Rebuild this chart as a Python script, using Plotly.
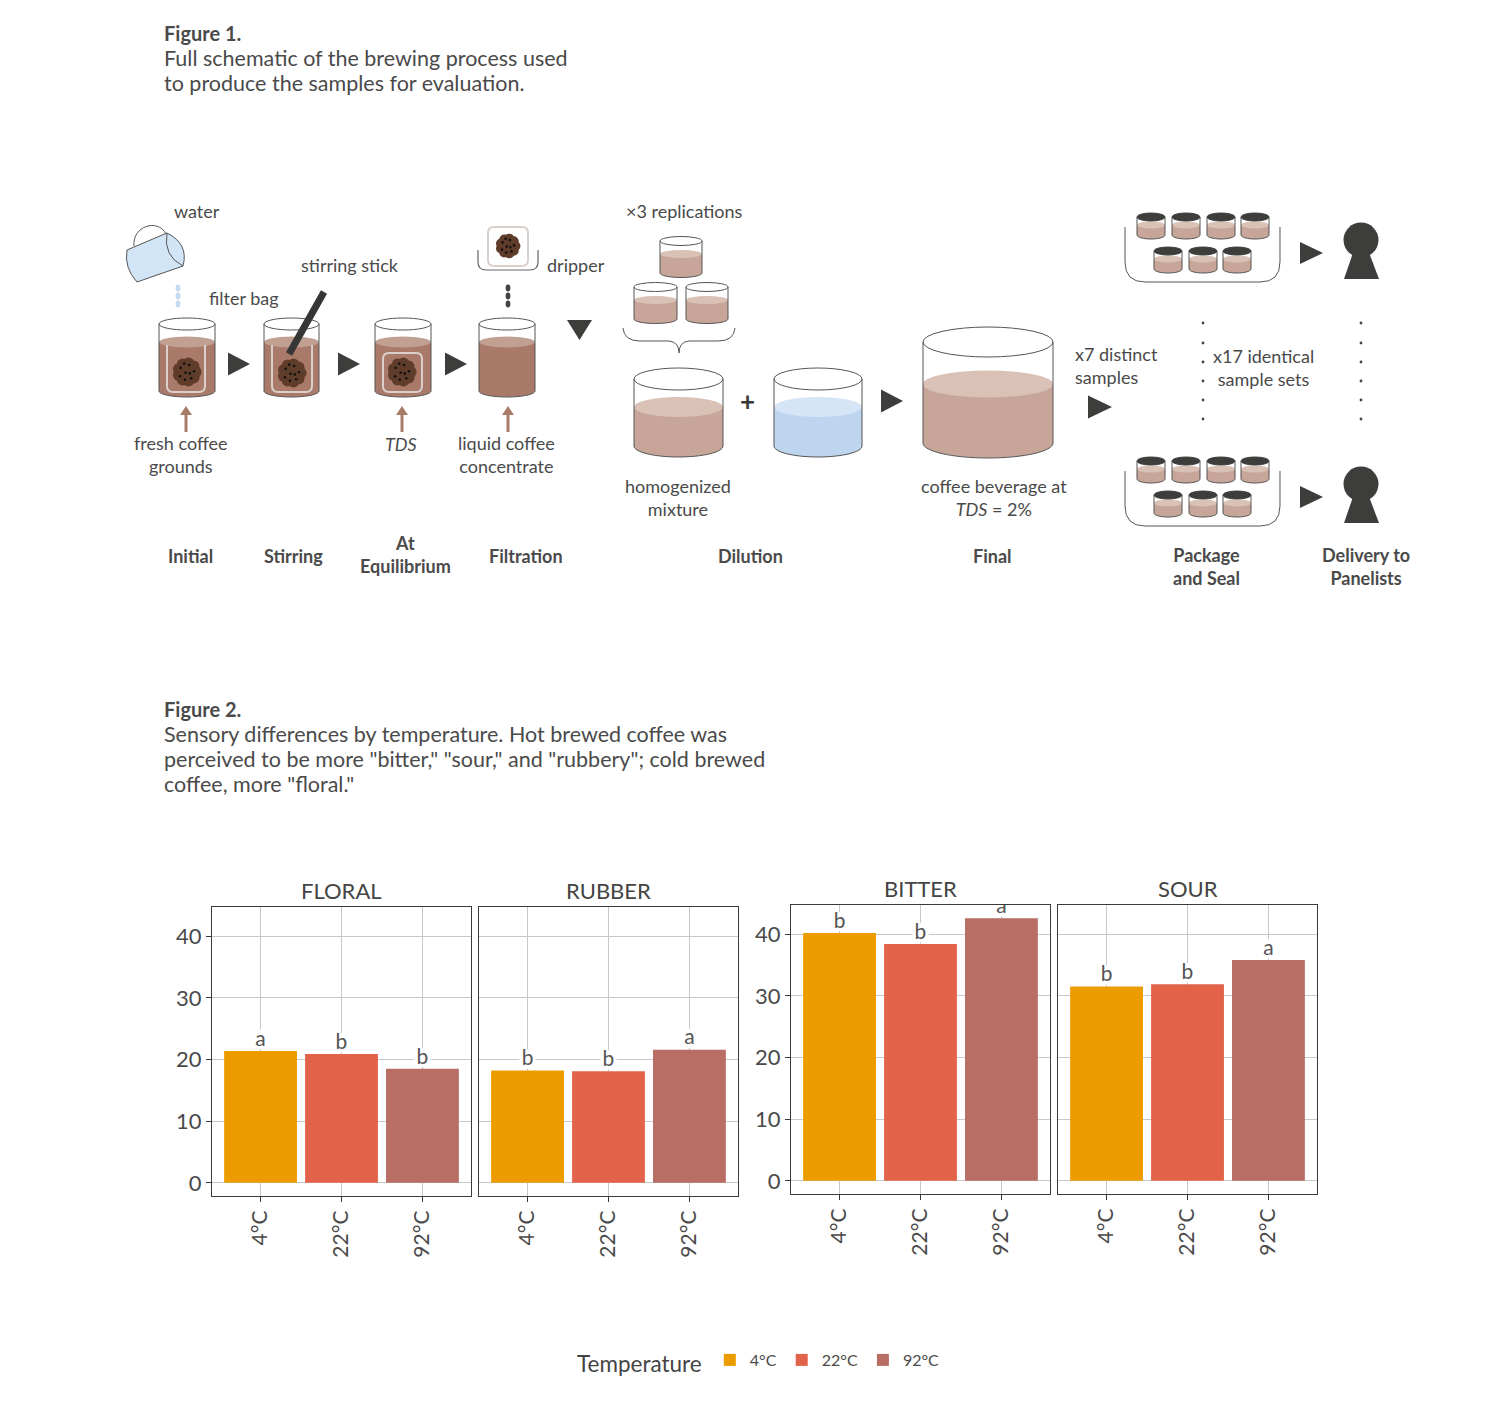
import math
import plotly.graph_objects as go

W, H = 1496, 1410
FONT = 'Lato'
TEXT = '#4a4a4a'
DARK = '#3d3d3b'

# ---- Figure 2 data ----
temperatures = ['4°C', '22°C', '92°C']
temp_colors = ['#ED9C00', '#E2634A', '#B86D65']
attributes = ['FLORAL', 'RUBBER', 'BITTER', 'SOUR']
floral = [21.4, 20.9, 18.5]
rubber = [18.2, 18.1, 21.6]
bitter = [40.2, 38.4, 42.6]
sour = [31.5, 31.9, 35.8]
floral_letters = ['a', 'b', 'b']
rubber_letters = ['b', 'b', 'a']
bitter_letters = ['b', 'b', 'a']
sour_letters = ['b', 'b', 'a']
y_ticks = [0, 10, 20, 30, 40]

# panel boxes in pixels (left, right, top, bottom)
panel_boxes = [(212, 471, 907, 1196), (479, 738, 907, 1196),
               (791, 1050, 905, 1194), (1058, 1317, 905, 1194)]

shapes = []
annotations = []


def X(x):
    return x / W


def Y(y):
    return 1 - y / H


def conv(d):
    '''
    Turns a pixel path "M 1 2 L 3 4" into paper coordinates
    '''
    out, nums = [], []
    for tok in d.replace(',', ' ').split():
        if tok.isalpha():
            out.append(tok)
        else:
            nums.append(float(tok))
            if len(nums) == 2:
                out.append(f'{X(nums[0]):.5f},{Y(nums[1]):.5f}')
                nums = []
    return ' '.join(out)


def add_path(d, fill=None, color=None, width=1):
    shapes.append(dict(type='path', xref='paper', yref='paper', path=conv(d),
                       fillcolor=fill or 'rgba(0,0,0,0)',
                       line=dict(color=color or 'rgba(0,0,0,0)', width=width if color else 0)))


def add_rect(x0, y0, x1, y1, fill):
    shapes.append(dict(type='rect', xref='paper', yref='paper', x0=X(x0), x1=X(x1),
                       y0=Y(y1), y1=Y(y0), fillcolor=fill, line=dict(width=0)))


def add_ellipse(cx, cy, rx, ry, fill=None, color=None, width=1):
    shapes.append(dict(type='circle', xref='paper', yref='paper',
                       x0=X(cx - rx), x1=X(cx + rx), y0=Y(cy + ry), y1=Y(cy - ry),
                       fillcolor=fill or 'rgba(0,0,0,0)',
                       line=dict(color=color or 'rgba(0,0,0,0)', width=width if color else 0)))


def add_line(x0, y0, x1, y1, color, width=1):
    shapes.append(dict(type='line', xref='paper', yref='paper', x0=X(x0), x1=X(x1),
                       y0=Y(y0), y1=Y(y1), line=dict(color=color, width=width)))


def text(x, y, s, size=18, anchor='center', color=TEXT, align='center'):
    annotations.append(dict(x=X(x), y=Y(y), xref='paper', yref='paper', text=s,
                            showarrow=False, xanchor=anchor, yanchor='middle', align=align,
                            font=dict(family=FONT, size=size, color=color)))


def glass(x0, x1, top, bot, ry, surf_y, body, surf, lid=None, lw=1):
    '''
    Cylinder glass with liquid, drawn front on
    '''
    cx, rx = (x0 + x1) / 2, (x1 - x0) / 2
    k = 0.5523
    add_rect(x0, surf_y, x1, bot, body)
    add_ellipse(cx, bot, rx, ry, body)
    add_ellipse(cx, surf_y, rx, ry * 0.9, surf)
    add_line(x0, top, x0, bot, '#555', lw)
    add_line(x1, top, x1, bot, '#555', lw)
    add_path(f'M {x0} {bot} C {x0} {bot + k * ry} {cx - k * rx} {bot + ry} {cx} {bot + ry} '
             f'C {cx + k * rx} {bot + ry} {x1} {bot + k * ry} {x1} {bot}', color='#555', width=lw)
    if lid:
        add_ellipse(cx, top, rx, ry, lid, lid, 1)
    else:
        add_ellipse(cx, top, rx, ry, None, '#555', lw)


def grounds(cx, cy, r):
    for i in range(9):
        a = 2 * math.pi * i / 9
        add_ellipse(cx + 0.62 * r * math.cos(a), cy + 0.62 * r * math.sin(a), 0.42 * r, 0.42 * r, '#603D2B')
    add_ellipse(cx, cy, 0.75 * r, 0.75 * r, '#603D2B')
    for dx, dy in [(-0.45, -0.3), (0.15, -0.5), (0.5, -0.05), (-0.1, 0.05), (-0.5, 0.3),
                   (0.3, 0.45), (0.2, 0.1), (-0.2, -0.6), (-0.15, 0.55)]:
        add_ellipse(cx + dx * r, cy + dy * r, 1.3, 1.3, '#111')


def tri_right(x0, x1, ym, h):
    add_path(f'M {x0} {ym - h / 2} L {x1} {ym} L {x0} {ym + h / 2} Z', fill=DARK)


def up_arrow(x, y_bot, y_top):
    add_line(x, y_bot, x, y_top + 6, '#A87C68', 3)
    add_path(f'M {x - 6} {y_top + 9} L {x} {y_top} L {x + 6} {y_top + 9} Z', fill='#A87C68')


def bag(x0, x1, y0, y1, closed=False):
    r = 6
    if closed:
        d = (f'M {x0 + r} {y0} L {x1 - r} {y0} Q {x1} {y0} {x1} {y0 + r} L {x1} {y1 - r} '
             f'Q {x1} {y1} {x1 - r} {y1} L {x0 + r} {y1} Q {x0} {y1} {x0} {y1 - r} '
             f'L {x0} {y0 + r} Q {x0} {y0} {x0 + r} {y0}')
    else:
        d = (f'M {x0} {y0} L {x0} {y1 - r} Q {x0} {y1} {x0 + r} {y1} L {x1 - r} {y1} '
             f'Q {x1} {y1} {x1} {y1 - r} L {x1} {y0}')
    add_path(d, color='#D9D0CC', width=2)


# ---- Figure 1: schematic ----
DARK_BODY, DARK_SURF = '#A97A6A', '#C2A091'
LIGHT_BODY, LIGHT_SURF = '#C7A699', '#D9C1B6'
WATER_BODY, WATER_SURF = '#BDD5EE', '#D6E5F5'

# pitcher
add_path('M 127 250 L 167 233 Q 189 244 183 266 L 137 282 Q 124 268 127 250 Z',
         fill='#D2E5F6', color='#555', width=1)
add_path('M 167 233 Q 163 256 183 266', color='#555', width=1)
add_path('M 134 246 C 132 226 158 218 166 234', color='#555', width=1)
for yy in [288, 296, 304]:
    add_ellipse(178, yy, 2.4, 3.4, '#C4DAF0')

# four brewing glasses
for gx0, gx1 in [(159, 215), (264, 319), (375, 431), (479, 535)]:
    glass(gx0, gx1, 324, 391, 6, 342, DARK_BODY, DARK_SURF)
bag(167, 205, 345, 392)
grounds(187, 372, 14)
bag(272, 312, 345, 392)
grounds(292, 373, 14)
add_line(324, 292, 289, 354, '#363636', 7)
bag(383, 422, 353, 392, closed=True)
grounds(402, 372, 14)

# dripper
add_path('M 478 250 L 478 262 Q 478 270 486 270 L 530 270 Q 538 270 538 262 L 538 250',
         color='#666', width=1.2)
bag(488, 528, 227, 266, closed=True)
grounds(508, 246, 12)
for yy in [288, 296, 304]:
    add_ellipse(508, yy, 2.4, 3.4, '#444')

for ax0 in [228, 338, 445]:
    tri_right(ax0, ax0 + 22, 364, 23)
add_path('M 567 320 L 592 320 L 579.5 340 Z', fill=DARK)
for ux in [186, 402, 508]:
    up_arrow(ux, 432, 406)

# dilution
glass(660, 702, 241, 273, 4.5, 254, LIGHT_BODY, LIGHT_SURF)
glass(634, 677, 287, 319, 4.5, 300, LIGHT_BODY, LIGHT_SURF)
glass(686, 728, 287, 319, 4.5, 300, LIGHT_BODY, LIGHT_SURF)
add_path('M 623 328 Q 624 341 640 341 L 669 341 Q 679 342 679 353 Q 679 342 689 341 '
         'L 718 341 Q 734 341 735 328', color='#555', width=1)
glass(634, 723, 379, 446, 11, 407, LIGHT_BODY, LIGHT_SURF)
glass(774, 862, 379, 446, 11, 407, WATER_BODY, WATER_SURF)
text(747, 401, '<b>+</b>', size=26, color='#3a3a3a')
tri_right(881, 903, 401, 23)
glass(923, 1053, 342, 443, 15, 384, LIGHT_BODY, LIGHT_SURF)
tri_right(1088, 1112, 407, 23)

# package and delivery, two rows
for off in [0, 244]:
    add_path(f'M 1125 {227 + off} L 1125 {262 + off} Q 1125 {282 + off} 1145 {282 + off} '
             f'L 1260 {282 + off} Q 1280 {282 + off} 1280 {262 + off} L 1280 {227 + off}',
             color='#555', width=1)
    for cx0 in [1137, 1172, 1207, 1241]:
        glass(cx0, cx0 + 28, 217 + off, 235 + off, 4, 225 + off, LIGHT_BODY, LIGHT_SURF, lid=DARK)
    for cx0 in [1154, 1189, 1223]:
        glass(cx0, cx0 + 28, 251 + off, 269 + off, 4, 259 + off, LIGHT_BODY, LIGHT_SURF, lid=DARK)
    tri_right(1300, 1323, 253 + off, 22)
    add_ellipse(1361, 240 + off, 17.5, 17.5, DARK)
    add_path(f'M 1354 {250 + off} L 1368 {250 + off} L 1379 {279 + off} L 1344 {279 + off} Z', fill=DARK)
for yy in [323, 343, 362, 381, 400, 419]:
    add_ellipse(1203, yy, 1.4, 1.4, '#444')
    add_ellipse(1361, yy, 1.4, 1.4, '#444')

# schematic labels
text(197, 211, 'water')
text(244, 298, 'filter bag')
text(350, 265, 'stirring stick')
text(576, 265, 'dripper')
text(684, 211, '×3 replications')
text(181, 454, 'fresh coffee<br>grounds')
text(401, 444, '<i>TDS</i>')
text(506, 454, 'liquid coffee<br>concentrate')
text(678, 498, 'homogenized<br>mixture')
text(994, 498, 'coffee beverage at<br><i>TDS</i> = 2%')
text(1073, 365, 'x7 distinct<br>samples', anchor='left', align='left')
text(1263, 368, 'x17 identical<br>sample sets')
text(190, 556, '<b>Initial</b>')
text(293, 556, '<b>Stirring</b>')
text(406, 555, '<b>At<br>Equilibrium</b>')
text(526, 556, '<b>Filtration</b>')
text(751, 556, '<b>Dilution</b>')
text(992, 556, '<b>Final</b>')
text(1206, 566, '<b>Package<br>and Seal</b>')
text(1366, 566, '<b>Delivery to<br>Panelists</b>')

# captions
text(162, 33, '<b>Figure 1.</b>', size=20, anchor='left')
text(162, 58, 'Full schematic of the brewing process used', size=21.5, anchor='left')
text(162, 83, 'to produce the samples for evaluation.', size=21.5, anchor='left')
text(162, 709, '<b>Figure 2.</b>', size=20, anchor='left')
text(162, 734, 'Sensory differences by temperature. Hot brewed coffee was', size=21.5, anchor='left')
text(162, 759, 'perceived to be more "bitter," "sour," and "rubbery"; cold brewed', size=21.5, anchor='left')
text(162, 784, 'coffee, more "floral."', size=21.5, anchor='left')

# ---- Figure 2: bar panels ----
fig = go.Figure()
panel_values = [floral, rubber, bitter, sour]
panel_letters = [floral_letters, rubber_letters, bitter_letters, sour_letters]

for i, (name, vals, letters) in enumerate(zip(attributes, panel_values, panel_letters)):
    xa = 'x' if i == 0 else f'x{i + 1}'
    ya = 'y' if i == 0 else f'y{i + 1}'
    for j, temp in enumerate(temperatures):
        fig.add_trace(go.Bar(x=[temp], y=[vals[j]], name=temp, legendgroup=temp,
                             marker=dict(color=temp_colors[j], line=dict(width=0)),
                             width=0.9, showlegend=(i == 0), xaxis=xa, yaxis=ya,
                             hoverinfo='skip'))
        # white patch so the gridline breaks around the letter
        shapes.append(dict(type='rect', xref=xa, yref=ya, x0=j - 0.1, x1=j + 0.1,
                           y0=vals[j] + 0.3, y1=vals[j] + 3.4, fillcolor='white',
                           line=dict(width=0), layer='between'))
    fig.add_trace(go.Scatter(x=temperatures, y=vals, mode='text', text=letters,
                             textposition='top center', cliponaxis=True,
                             textfont=dict(family=FONT, size=21, color='#555'),
                             showlegend=False, hoverinfo='skip', xaxis=xa, yaxis=ya))

    px0, px1, py0, py1 = panel_boxes[i]
    first = i in (0, 2)
    axis_line = dict(showline=True, mirror=True, linecolor='#3a3a3a', linewidth=1.3,
                     showgrid=True, gridcolor='#C8C8C8', gridwidth=1, zeroline=False)
    fig.update_layout({
        f'xaxis{i + 1 if i else ""}': dict(
            domain=[X(px0), X(px1)], anchor=ya, type='category',
            categoryorder='array', categoryarray=temperatures, range=[-0.6, 2.6],
            ticks='outside', ticklen=5, tickcolor='#3a3a3a', tickangle=-90,
            tickfont=dict(family=FONT, size=21, color=TEXT), **axis_line),
        f'yaxis{i + 1 if i else ""}': dict(
            domain=[Y(py1), Y(py0)], anchor=xa, range=[-2.13, 44.73], tickvals=y_ticks,
            showticklabels=first, ticks='outside' if first else '', ticklen=5,
            tickcolor='#3a3a3a', tickfont=dict(family=FONT, size=22, color=TEXT), **axis_line),
    })
    text((px0 + px1) / 2, py0 - 17, name, size=22, color='#444')

fig.update_layout(
    width=W, height=H,
    margin=dict(l=0, r=0, t=0, b=0),
    paper_bgcolor='white', plot_bgcolor='white',
    barmode='overlay',
    shapes=shapes, annotations=annotations,
    legend=dict(orientation='h', x=X(760), xanchor='center', y=Y(1363), yanchor='middle',
                title=dict(text='Temperature', side='left',
                           font=dict(family=FONT, size=22.5, color='#444')),
                font=dict(family=FONT, size=16, color=TEXT), itemwidth=30),
)

# drop the default page margin so the figure sits at the window corner
fig.write_html("out.html", config={'displayModeBar': False},
               post_script="document.body.style.margin='0';")
